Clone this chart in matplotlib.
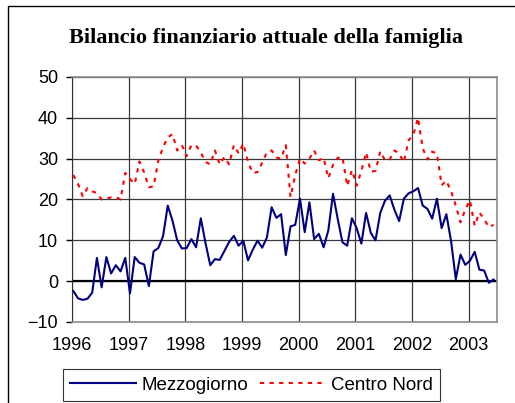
import matplotlib
matplotlib.use("Agg")
import matplotlib.pyplot as plt
from matplotlib.patches import Rectangle

# monthly values, Jan 1996 .. Jun 2003
mezzogiorno = [
    -2.4, -4.2, -4.6, -4.3, -2.8, 5.7, -1.5, 5.9, 1.9, 3.9, 2.4, 5.7,
    -3.0, 5.9, 4.5, 4.1, -1.2, 7.3, 8.1, 11.0, 18.5, 14.8, 10.0, 8.0,
    8.1, 10.3, 8.3, 15.4, 9.3, 3.9, 5.4, 5.2, 7.4, 9.6, 11.1, 8.7,
    9.9, 5.1, 7.7, 9.9, 8.2, 10.7, 18.1, 15.5, 16.4, 6.4, 13.4, 13.8,
    20.2, 12.0, 19.3, 10.3, 11.6, 8.3, 12.4, 21.4, 15.2, 9.5, 8.7, 15.4,
    13.0, 9.2, 16.7, 11.8, 10.0, 16.7, 19.7, 21.0, 17.5, 14.7, 20.2, 21.5,
    22.0, 22.8, 18.5, 17.7, 15.3, 20.2, 13.0, 16.4, 9.8, 0.5, 6.5, 4.0,
    5.0, 7.2, 2.8, 2.6, -0.4, 0.4,
]
centro_nord = [
    26.0, 23.8, 20.8, 22.8, 22.0, 21.6, 20.0, 20.3, 20.5, 20.6, 20.0, 26.5,
    25.0, 23.8, 29.3, 26.6, 23.0, 23.2, 29.5, 32.8, 35.2, 36.0, 32.0, 33.3,
    30.6, 33.3, 33.2, 31.5, 29.2, 28.6, 32.0, 28.6, 30.4, 28.6, 33.3, 31.3,
    33.7, 29.2, 26.5, 26.7, 29.0, 31.6, 32.0, 30.3, 30.0, 33.3, 20.6, 26.0,
    30.0, 28.8, 30.0, 32.0, 29.6, 30.2, 25.2, 28.5, 30.2, 30.4, 23.3, 27.2,
    23.4, 27.0, 31.5, 26.8, 27.0, 31.8, 29.6, 29.8, 32.0, 31.3, 29.1, 34.5,
    35.8, 40.0, 32.5, 29.8, 31.7, 31.3, 23.5, 24.6, 22.0, 18.5, 14.4, 17.5,
    19.8, 13.6, 16.8, 15.2, 13.2, 13.8,
]
years = [1996, 1997, 1998, 1999, 2000, 2001, 2002, 2003]
y_ticks = [-10, 0, 10, 20, 30, 40, 50]

x = [1996 + (m + 0.28) / 12 for m in range(len(mezzogiorno))]

fig = plt.figure(figsize=(5.15, 4.03), dpi=100)
ax = fig.add_axes([0.1398, 0.201, 0.8252, 0.608])

ax.set_xlim(1996, 2003.5)
ax.set_ylim(-10, 50)
ax.set_yticks(y_ticks)
ax.set_xticks(years)
ax.set_xticklabels([str(y) for y in years])
ax.tick_params(axis='y', length=4, width=1, pad=6, labelsize=13, direction='out')
ax.tick_params(axis='x', length=0, pad=11, labelsize=13)
for lab in ax.get_xticklabels() + ax.get_yticklabels():
    lab.set_family('Liberation Sans')

ax.grid(True, color='#3a3a3a', linewidth=0.9)
ax.set_axisbelow(True)
for side in ['top', 'right', 'bottom']:
    ax.spines[side].set_color('#8c8c8c')
    ax.spines[side].set_linewidth(1.2)
ax.spines['left'].set_color('#333333')
ax.axhline(0, color='black', linewidth=1.6, zorder=1.5)

ax.plot(x, mezzogiorno, color='#000080', linewidth=1.5, label='Mezzogiorno', zorder=3)
ax.plot(x, centro_nord, color='#ff0000', linewidth=1.5, linestyle=(0, (2, 2.6)),
        label='Centro Nord', zorder=3)

fig.text(0.517, 0.906, 'Bilancio finanziario attuale della famiglia',
         ha='center', va='center', fontsize=16, fontweight='bold',
         family='Liberation Serif')

leg = fig.legend(loc='upper left', bbox_to_anchor=(0.122, 0.0844), ncol=2,
                 frameon=True, fancybox=False, handlelength=3.5,
                 handletextpad=0.3, columnspacing=0.6, borderpad=0.4,
                 borderaxespad=0,
                 prop={'family': 'Liberation Sans', 'size': 13.5})
leg.get_frame().set_edgecolor('black')
leg.get_frame().set_linewidth(0.8)

fig.patches.append(Rectangle((0.0155, -0.5), 1.5, 1.485, fill=False,
                             transform=fig.transFigure, edgecolor='black',
                             linewidth=1.0))

fig.savefig('out.png', dpi=100)
